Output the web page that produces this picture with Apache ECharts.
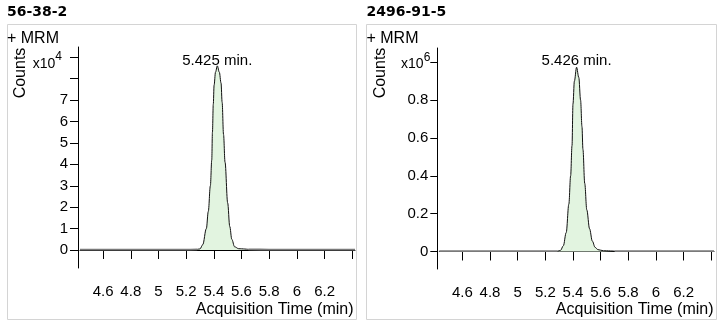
<!DOCTYPE html>
<html><head><meta charset="utf-8">
<script src="https://cdn.jsdelivr.net/npm/echarts@6/dist/echarts.min.js"></script>
<style>html,body{margin:0;padding:0;background:#fff}#c{width:721px;height:326px}</style>
</head><body><div id="c"></div>
<script>
// ---- data ----
const panelTitles = ['56-38-2', '2496-91-5'];
const xTicks = [4.6, 4.8, 5.0, 5.2, 5.4, 5.6, 5.8, 6.0, 6.2, 6.4];
const xTickLabels = [4.6, 4.8, 5.0, 5.2, 5.4, 5.6, 5.8, 6.0, 6.2];

// Panel A: 56-38-2, Counts x10^4
const yTicksA = [0, 1, 2, 3, 4, 5, 6, 7, 8, 9];
const yTickLabelsA = [0, 1, 2, 3, 4, 5, 6, 7, 9];
const yExpA = 4;
const timeA = [4.433, 4.6, 4.8, 5.0, 5.2, 5.28, 5.30, 5.32, 5.346, 5.36, 5.375, 5.385, 5.39, 5.396, 5.402, 5.412, 5.425, 5.44, 5.452, 5.46, 5.47, 5.481, 5.50, 5.515, 5.53, 5.55, 5.58, 5.65, 5.8, 6.0, 6.2, 6.42];
const countsA = [0.02, 0.02, 0.02, 0.02, 0.02, 0.03, 0.05, 0.25, 1.0, 1.8, 3.0, 4.2, 5.5, 6.8, 7.7, 8.3, 8.6, 8.3, 7.8, 6.9, 5.4, 4.1, 2.2, 1.1, 0.5, 0.15, 0.06, 0.03, 0.02, 0.02, 0.02, 0.02];
const peakLimitsA = [5.28, 5.65];
const peakTimeA = 5.425;
const peakCountA = 8.6;

// Panel B: 2496-91-5, Counts x10^6
const yTicksB = [0, 0.2, 0.4, 0.6, 0.8, 1.0];
const yTickLabelsB = [0, 0.2, 0.4, 0.6, 0.8, 1.0];
const yExpB = 6;
const timeB = [4.433, 4.6, 4.8, 5.0, 5.2, 5.29, 5.31, 5.33, 5.351, 5.37, 5.383, 5.393, 5.40, 5.41, 5.426, 5.442, 5.455, 5.465, 5.472, 5.485, 5.50, 5.52, 5.54, 5.56, 5.58, 5.62, 5.7, 5.9, 6.1, 6.42];
const countsB = [0.002, 0.002, 0.002, 0.002, 0.002, 0.002, 0.006, 0.03, 0.1, 0.25, 0.40, 0.56, 0.78, 0.90, 0.974, 0.92, 0.80, 0.66, 0.54, 0.36, 0.22, 0.12, 0.055, 0.022, 0.01, 0.004, 0.002, 0.002, 0.002, 0.002];
const peakLimitsB = [5.29, 5.70];
const peakTimeB = 5.426;
const peakCountB = 0.974;

// ---- build ----
const FONT = 'Liberation Sans';
function baseData(t, c, lim) {
  const out = [];
  let gap = false;
  for (let i = 0; i < t.length; i++) {
    if (t[i] <= lim[0] || t[i] >= lim[1]) out.push([t[i], c[i]]);
    else if (!gap) { out.push([t[i], null]); gap = true; }
  }
  return out;
}
function peakData(t, c, lim) {
  const out = [];
  for (let i = 0; i < t.length; i++) if (t[i] >= lim[0] && t[i] <= lim[1]) out.push([t[i], c[i]]);
  return out;
}
function yAxisCfg(idx, min, max, ticks, labels, exp, margin, padN, richM, richS, tickLen) {
  const top = ticks[ticks.length - 1];
  return {
    type: 'value', gridIndex: idx, min: min, max: max, offset: 2,
    axisLine: { show: true, lineStyle: { color: '#000', width: 1 } },
    axisTick: { show: true, length: tickLen, lineStyle: { color: '#000' }, customValues: ticks },
    splitLine: { show: false },
    axisLabel: {
      margin: margin, customValues: labels,
      formatter: function (v) {
        if (Math.abs(v - top) < 1e-9) return '{m|x10}{s|' + exp + '}';
        return '{n|' + String(v) + '}';
      },
      rich: {
        n: { fontFamily: FONT, fontSize: 15, color: '#000', padding: [0, padN, 0, 0] },
        m: Object.assign({ fontFamily: FONT, fontSize: 14, color: '#000', lineHeight: 14 }, richM),
        s: Object.assign({ fontFamily: FONT, fontSize: 12, color: '#000', lineHeight: 12 }, richS)
      }
    }
  };
}
function xAxisCfg(idx) {
  return {
    type: 'value', gridIndex: idx, min: 4.433, max: 6.42, offset: 3,
    axisLine: { show: true, lineStyle: { color: '#000', width: 1 } },
    axisTick: { show: true, length: 9, lineStyle: { color: '#000' }, customValues: xTicks },
    splitLine: { show: false },
    axisLabel: { margin: 13, customValues: xTickLabels, fontFamily: FONT, fontSize: 15, color: '#000',
      formatter: function (v) { return String(v); } }
  };
}
function seriesFor(idx, t, c, lim, pt, pc, off) {
  return [
    { type: 'line', xAxisIndex: idx, yAxisIndex: idx, data: baseData(t, c, lim), showSymbol: false, symbol: 'none',
      smooth: 0.3, connectNulls: false, lineStyle: { color: '#7a7a7a', width: 1.8 }, z: 2, silent: true },
    { type: 'line', xAxisIndex: idx, yAxisIndex: idx, data: peakData(t, c, lim), showSymbol: false, symbol: 'none',
      smooth: 0.35, smoothMonotone: 'x', lineStyle: { color: '#111', width: 1 },
      areaStyle: { color: '#e2f4e0', opacity: 1 }, z: 3, silent: true,
      markPoint: { symbol: 'circle', symbolSize: 0, silent: true,
        data: [{ coord: [pt, pc], value: pt,
          label: { show: true, position: 'inside', offset: [0, off], formatter: pt.toFixed(3) + ' min.',
            fontFamily: FONT, fontSize: 15, color: '#000' } }] } }
  ];
}
function txt(x, y, text, size, align, vAlign, rot) {
  return { type: 'text', x: x, y: y, rotation: rot || 0, silent: true, z: 10,
    style: { text: text, fontSize: size, fontFamily: FONT, fill: '#000', align: align, verticalAlign: vAlign } };
}
function titleCfg(left, text) {
  return { text: text, left: left, top: 4, padding: 0,
    textStyle: { fontFamily: 'DejaVu Sans', fontWeight: 'bold', fontSize: 14, color: '#000', lineHeight: 16 } };
}

const chart = echarts.init(document.getElementById('c'), null, { renderer: 'canvas' });
chart.setOption({
  animation: false,
  backgroundColor: '#fff',
  title: [titleCfg(7, panelTitles[0]), titleCfg(366.5, panelTitles[1])],
  grid: [
    { left: 80, top: 47, width: 275, height: 221 },
    { left: 439.3, top: 48, width: 274.7, height: 221 }
  ],
  xAxis: [xAxisCfg(0), xAxisCfg(1)],
  yAxis: [
    yAxisCfg(0, -0.841, 9.481, yTicksA, yTickLabelsA, yExpA, 10, 0,
      { padding: [13, 0, 0, 0] }, { padding: [7, 6, 9, 0] }, 8),
    yAxisCfg(1, -0.0925, 1.0756, yTicksB, yTickLabelsB, yExpB, 7, 2,
      { padding: [5, 0, 2, 0] }, { padding: [0, 0, 9, 0] }, 7)
  ],
  series: seriesFor(0, timeA, countsA, peakLimitsA, peakTimeA, peakCountA, -5)
    .concat(seriesFor(1, timeB, countsB, peakLimitsB, peakTimeB, peakCountB, -6)),
  graphic: [
    { type: 'rect', silent: true, z: 0, shape: { x: 7.5, y: 24.5, width: 349, height: 295 }, style: { fill: 'none', stroke: '#d4d4d4', lineWidth: 1 } },
    { type: 'rect', silent: true, z: 0, shape: { x: 366.5, y: 24.5, width: 350, height: 295 }, style: { fill: 'none', stroke: '#d4d4d4', lineWidth: 1 } },
    txt(7, 38.5, '+ MRM', 16, 'left', 'middle'),
    txt(366.5, 38.5, '+ MRM', 16, 'left', 'middle'),
    txt(21, 73, 'Counts', 16, 'center', 'middle', Math.PI / 2),
    txt(380.3, 73, 'Counts', 16, 'center', 'middle', Math.PI / 2),
    txt(353.5, 310, 'Acquisition Time (min)', 16, 'right', 'middle'),
    txt(713.5, 310, 'Acquisition Time (min)', 16, 'right', 'middle')
  ]
});
</script>
</body></html>
